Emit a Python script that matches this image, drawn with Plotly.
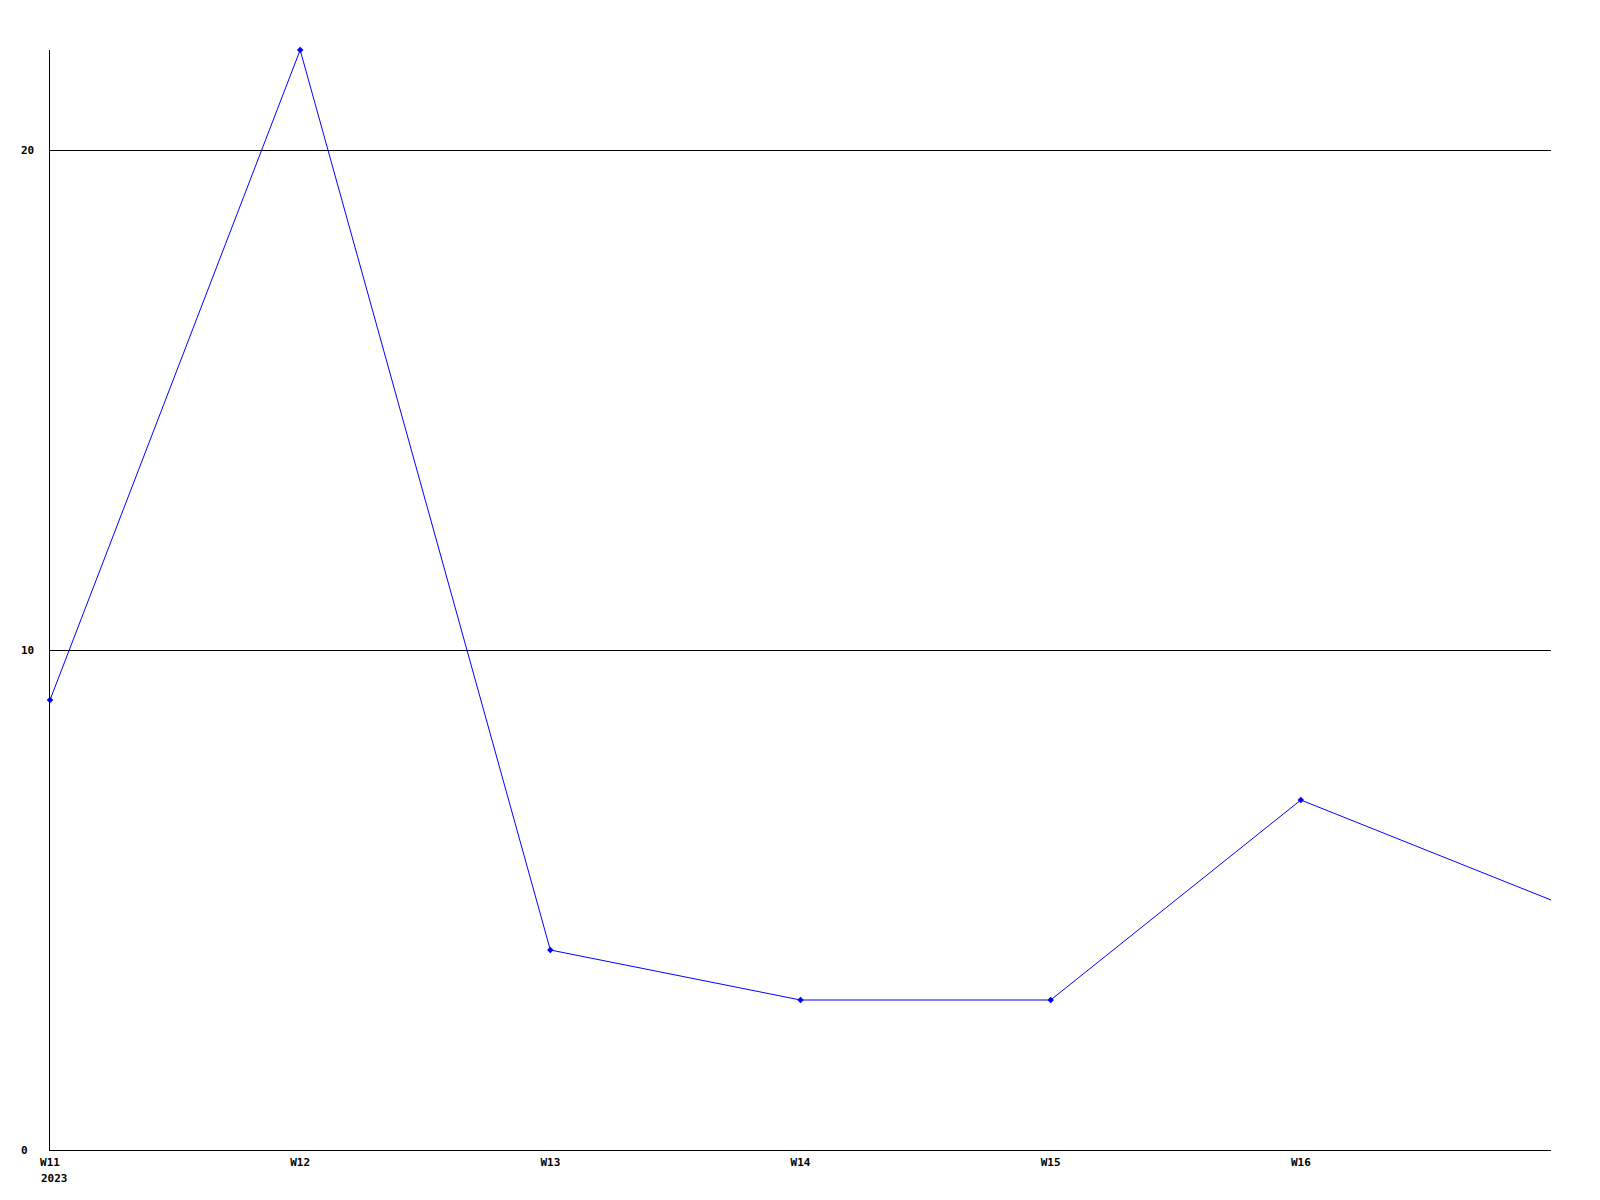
import plotly.graph_objects as go

weeks = [0, 1, 2, 3, 4, 5, 6]
values = [9, 22, 4, 3, 3, 7, 5]
tick_pos = [0, 1, 2, 3, 4, 5]
tick_labels = ["W11", "W12", "W13", "W14", "W15", "W16"]
year_label = "2023"
y_ticks = [0, 10, 20]

FONT = dict(family="DejaVu Sans Mono", size=11, color="black")

fig = go.Figure()
fig.add_trace(go.Scatter(
    x=weeks, y=values, mode="lines",
    line=dict(color="#0000ff", width=1),
    showlegend=False,
))
fig.add_trace(go.Scatter(
    x=weeks[:-1], y=values[:-1], mode="markers",
    marker=dict(symbol="diamond", size=5, color="#0000ff"),
    showlegend=False, hoverinfo="skip", cliponaxis=False,
))

annotations = []
for v in y_ticks:
    annotations.append(dict(
        x=0, y=v, xref="x", yref="y", text=f"<b>{v}</b>", showarrow=False,
        xanchor="left", yanchor="middle", xshift=-31, font=FONT,
    ))
annotations.append(dict(
    x=0, y=0, xref="x", yref="y", text=f"<b>{year_label}</b>", showarrow=False,
    xanchor="left", yanchor="top", xshift=-11, yshift=-20, font=FONT,
))

fig.update_layout(
    width=1584, height=1184,
    margin=dict(l=42, r=41, t=42, b=42),
    paper_bgcolor="white", plot_bgcolor="white",
    xaxis=dict(
        range=[0, 6], tickvals=tick_pos,
        ticktext=[f"<b>{t}</b>" for t in tick_labels],
        showgrid=False, zeroline=False, showline=True, linecolor="black",
        linewidth=1, ticks="", tickfont=FONT, ticklabelstandoff=2,
    ),
    yaxis=dict(
        range=[0, 22], tickvals=[10, 20], showticklabels=False,
        showgrid=True, gridcolor="black", gridwidth=1,
        zeroline=False, showline=True, linecolor="black", linewidth=1,
        ticks="",
    ),
    annotations=annotations,
)

fig.write_html("out.html")
